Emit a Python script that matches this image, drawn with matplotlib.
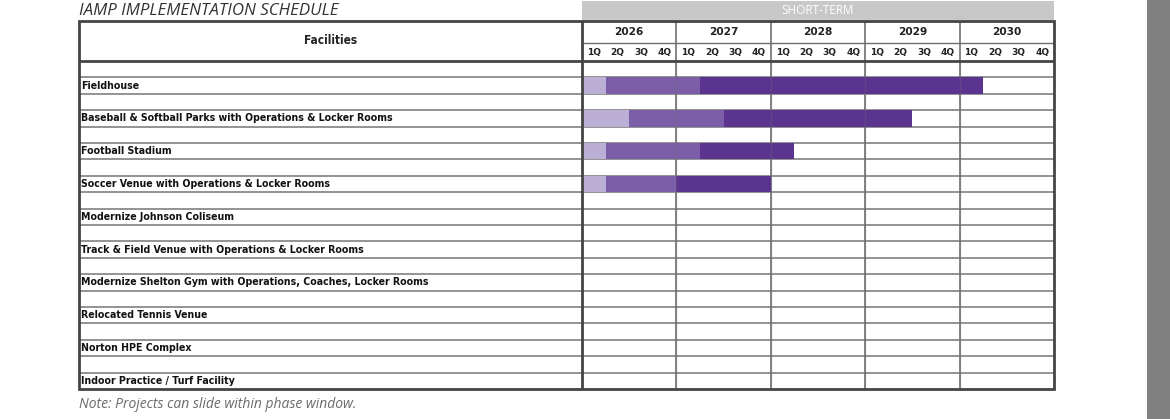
import matplotlib.pyplot as plt
from matplotlib.patches import Rectangle

# data
facilities = ['Fieldhouse',
              'Baseball & Softball Parks with Operations & Locker Rooms',
              'Football Stadium',
              'Soccer Venue with Operations & Locker Rooms',
              'Modernize Johnson Coliseum',
              'Track & Field Venue with Operations & Locker Rooms',
              'Modernize Shelton Gym with Operations, Coaches, Locker Rooms',
              'Relocated Tennis Venue',
              'Norton HPE Complex',
              'Indoor Practice / Turf Facility']
years = ['2026', '2027', '2028', '2029', '2030']
quarters = ['1Q', '2Q', '3Q', '4Q']
# quarter index (from 1Q 2026) where each phase ends; phases start at 0
phase1_end = [1, 2, 1, 1, None, None, None, None, None, None]
phase2_end = [5, 6, 5, 4, None, None, None, None, None, None]
phase3_end = [17, 14, 9, 8, None, None, None, None, None, None]
phase_colors = ['#bcafd6', '#7c5ea8', '#5b3490']

W, H = 1170, 419
fig = plt.figure(figsize=(W / 100, H / 100), dpi=100)

# table geometry in pixels
tl, tr, tt, tb = 79, 1054, 21, 389
gl = 582
nq = len(years) * 4
qpx = (tr - gl) / nq
header_px = 61 - tt
sub_px = (tb - 61) / (2 * len(facilities))

ax = fig.add_axes([tl / W, 1 - tb / H, (tr - tl) / W, (tb - tt) / H])
x0 = -(gl - tl) / qpx
ytop = -header_px / sub_px
yq = -(61 - 43) / sub_px
ax.set_xlim(x0, nq)
ax.set_ylim(2 * len(facilities), ytop)
ax.axis('off')

# bars
for i in range(len(facilities)):
    if phase3_end[i] is None:
        continue
    y = 2 * i + 1
    edges = [0, phase1_end[i], phase2_end[i], phase3_end[i]]
    for k in range(3):
        ax.add_patch(Rectangle((edges[k], y), edges[k + 1] - edges[k], 1,
                               facecolor=phase_colors[k], edgecolor='none', zorder=2))

# horizontal row lines
for j in range(1, 2 * len(facilities)):
    ax.plot([x0, nq], [j, j], color='#8a8a8a', lw=1.3, zorder=1)

# year lines (faintly visible through bars)
for k in range(1, len(years)):
    ax.plot([k * 4, k * 4], [ytop, 2 * len(facilities)], color='#707070', lw=1.2, zorder=1)
    ax.plot([k * 4, k * 4], [0, 2 * len(facilities)], color='#707070', lw=1.0, alpha=0.3, zorder=3)
ax.plot([0, nq], [yq, yq], color='#707070', lw=1.0, zorder=1)

# header separator and borders
ax.plot([x0, nq], [0, 0], color='#444444', lw=2.0, zorder=4)
ax.plot([0, 0], [ytop, 2 * len(facilities)], color='#444444', lw=2.0, zorder=4)
ax.add_patch(Rectangle((x0, ytop), nq - x0, 2 * len(facilities) - ytop, fill=False,
                       edgecolor='#444444', lw=2.0, zorder=5, clip_on=False))

# header text
ax.text(x0 / 2, ytop / 2, 'Facilities', ha='center', va='center',
        fontsize=8.5, fontweight='bold', fontstretch='condensed', color='#222222')
for k, yr in enumerate(years):
    ax.text(k * 4 + 2, (ytop + yq) / 2, yr, ha='center', va='center',
            fontsize=7.6, fontweight='bold', color='#222222')
    for q, ql in enumerate(quarters):
        ax.text(k * 4 + q + 0.5, yq / 2, ql, ha='center', va='center',
                fontsize=6.5, fontweight='bold', color='#222222')

# facility labels
for i, name in enumerate(facilities):
    ax.text(x0 + 0.1, 2 * i + 1.5, name, ha='left', va='center',
            fontsize=7.6, fontweight='bold', fontstretch='condensed', color='#111111')

# short-term band
fig.patches.append(Rectangle((gl / W, 1 - 20 / H), (tr - gl) / W, 19 / H,
                             transform=fig.transFigure, facecolor='#c8c8c8',
                             edgecolor='none'))
fig.text((gl + tr) / 2 / W, 1 - 11 / H, 'SHORT-TERM', ha='center', va='center',
         fontsize=8.5, color='white', family='Open Sans')

# title and note
fig.text(tl / W, 1 - 11 / H, 'IAMP IMPLEMENTATION SCHEDULE', ha='left', va='center',
         fontsize=12.2, style='italic', color='#333333', family='Open Sans')
fig.text(tl / W, 1 - 404 / H, 'Note: Projects can slide within phase window.',
         ha='left', va='center', fontsize=10, style='italic', color='#6a6a6a',
         family='Open Sans')

# grey strip on the right edge
fig.patches.append(Rectangle((1147 / W, 0), (W - 1147) / W, 1,
                             transform=fig.transFigure, facecolor='#808080',
                             edgecolor='none'))

fig.savefig('out.png', dpi=100)
